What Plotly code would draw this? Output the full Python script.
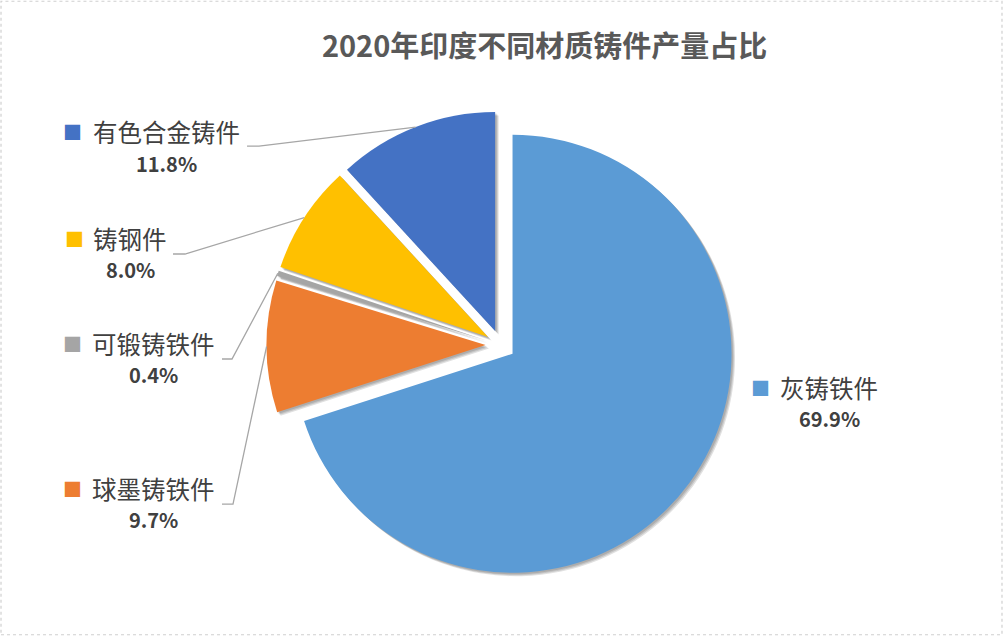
import math
import plotly.graph_objects as go

# 数据
categories = ["灰铸铁件", "球墨铸铁件", "可锻铸铁件", "铸钢件", "有色合金铸件"]
shares = [69.9, 9.7, 0.4, 8.0, 11.8]
share_labels = ["69.9%", "9.7%", "0.4%", "8.0%", "11.8%"]
colors = ["#5B9BD5", "#ED7D31", "#A5A5A5", "#FFC000", "#4472C4"]

W, H = 1003, 636
# 饼图中心与半径（像素）
cx, cy, R = 500.5, 345.0, 219.0
pull = 0.068

# 标签布局（像素）
name_x = [829, 153, 153, 130, 166]
name_y = [387, 488, 343, 238, 132]
key_x = [760, 72, 72, 74, 72]
# 引导线起点 (x0, x1, y)；灰铸铁件无引导线
leader_start = [None, (222, 233, 504), (222, 232, 359), (173, 185, 254), (247, 259, 146)]


def px(x):
    return x / W


def py(y):
    return 1 - y / H


half = R * (1 + pull)


def pie_domain(ox=0.0, oy=0.0):
    return dict(x=[px(cx - half + ox), px(cx + half + ox)],
                y=[py(cy + half + oy), py(cy - half + oy)])


fig = go.Figure()

# 阴影（几层半透明偏移饼图）
for off in [3.5, 2.5, 1.5]:
    fig.add_trace(go.Pie(
        labels=categories, values=shares, sort=False, direction="clockwise",
        rotation=0, pull=[pull] * len(shares),
        marker=dict(colors=["rgba(0,0,0,0.12)"] * len(shares), line=dict(width=0)),
        textinfo="none", hoverinfo="skip", showlegend=False,
        domain=pie_domain(off, off),
    ))

fig.add_trace(go.Pie(
    labels=categories,
    values=shares,
    sort=False,
    direction="clockwise",
    rotation=0,
    pull=[pull] * len(shares),
    marker=dict(colors=colors, line=dict(width=0)),
    textinfo="none",
    hoverinfo="skip",
    showlegend=False,
    domain=pie_domain(),
))

annotations = []
shapes = []
total = sum(shares)
start = 0.0
for i, name in enumerate(categories):
    span = shares[i] / total * 360
    mid = math.radians(start + span / 2)
    start += span
    dx, dy = math.sin(mid), -math.cos(mid)
    # 被拉出后的扇区中心，引导线终点位于弧线中点
    sx = cx + dx * pull * R
    sy = cy + dy * pull * R
    ex, ey = sx + dx * R, sy + dy * R

    annotations.append(dict(
        x=px(key_x[i]), y=py(name_y[i]), xref="paper", yref="paper",
        text="■", showarrow=False, xanchor="center", yanchor="middle",
        font=dict(size=19, color=colors[i], family="Noto Sans CJK SC"),
    ))
    annotations.append(dict(
        x=px(name_x[i]), y=py(name_y[i]), xref="paper", yref="paper",
        text=name, showarrow=False, xanchor="center", yanchor="middle",
        font=dict(size=24.5, color="#404040", family="Noto Sans CJK SC"),
    ))
    annotations.append(dict(
        x=px(name_x[i]), y=py(name_y[i] + 31), xref="paper", yref="paper",
        text="<b>" + share_labels[i] + "</b>", showarrow=False,
        xanchor="center", yanchor="middle",
        font=dict(size=20, color="#404040", family="Noto Sans CJK SC"),
    ))

    if leader_start[i] is not None:
        x0, x1, y0 = leader_start[i]
        path = "M {:.4f},{:.4f} L {:.4f},{:.4f} L {:.4f},{:.4f}".format(
            px(x0), py(y0), px(x1), py(y0), px(ex), py(ey))
        shapes.append(dict(type="path", path=path, xref="paper", yref="paper",
                           line=dict(color="#A6A6A6", width=1.3)))

# 外框
shapes.append(dict(type="rect", xref="paper", yref="paper", x0=0.001, y0=0.002, x1=0.999, y1=0.998,
                   line=dict(color="#D0D0D0", width=1.2, dash="dot")))

fig.update_layout(
    width=W, height=H,
    margin=dict(l=0, r=0, t=0, b=0),
    paper_bgcolor="white",
    plot_bgcolor="white",
    title=dict(text="<b>2020年印度不同材质铸件产量占比</b>", x=0.543, xanchor="center",
               y=py(47), yanchor="middle",
               font=dict(size=29, color="#595959", family="Noto Sans CJK SC")),
    annotations=annotations,
    shapes=shapes,
)

fig.write_html("out.html", config={"displayModeBar": False},
               post_script="document.body.style.margin='0';document.body.style.overflow='hidden';")
